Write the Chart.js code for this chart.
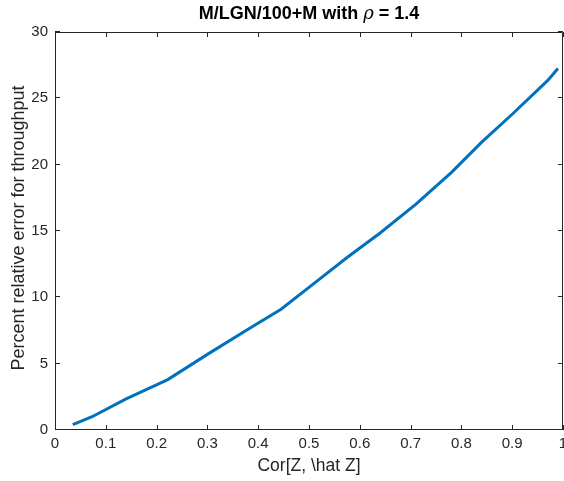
<!DOCTYPE html>
<html>
<head>
<meta charset="utf-8">
<script src="https://cdn.jsdelivr.net/npm/chart.js@4"></script>
<style>
  body { margin: 0; background: #fff; }
  #wrap { width: 564px; height: 481px; }
</style>
</head>
<body>
<div id="wrap"><canvas id="plot"></canvas></div>
<script>
// values
const corr = [0.035, 0.073, 0.14, 0.222, 0.3, 0.38, 0.445, 0.51, 0.575, 0.64, 0.71, 0.78, 0.84, 0.9, 0.97, 0.99];
const relErr = [0.4, 1.0, 2.35, 3.8, 5.7, 7.6, 9.1, 11.05, 13.0, 14.85, 17.0, 19.4, 21.7, 23.8, 26.35, 27.25];
const xTicks = [0, 0.1, 0.2, 0.3, 0.4, 0.5, 0.6, 0.7, 0.8, 0.9, 1];
const yTicks = [0, 5, 10, 15, 20, 25, 30];

const titleParts = [
  { text: 'M/LGN/100+M with ', italic: false },
  { text: 'ρ', italic: true },
  { text: ' = 1.4', italic: false }
];
const xLabel = 'Cor[Z, \\hat Z]';
const yLabel = 'Percent relative error for throughput';

const axisColor = '#262626';
const fontName = '"Liberation Sans", Arial, Helvetica, sans-serif';

function partFont(p) {
  return p.italic ? 'italic 18px "DejaVu Serif", serif' : 'bold 18px ' + fontName;
}

// matlab-ish box with inward ticks, plus title and axis labels
const matlabAxes = {
  id: 'matlabAxes',
  afterDraw(chart) {
    const ctx = chart.ctx;
    const a = chart.chartArea;
    const xs = chart.scales.x, ys = chart.scales.y;
    ctx.save();
    ctx.strokeStyle = axisColor;
    ctx.lineWidth = 1;
    ctx.beginPath();
    ctx.rect(a.left + 0.5, a.top + 0.5, a.right - a.left - 1, a.bottom - a.top - 1);
    const tl = 5;
    xTicks.forEach(v => {
      const px = Math.round(xs.getPixelForValue(v)) + 0.5;
      ctx.moveTo(px, a.bottom); ctx.lineTo(px, a.bottom - tl);
      ctx.moveTo(px, a.top); ctx.lineTo(px, a.top + tl);
    });
    yTicks.forEach(v => {
      const py = Math.round(ys.getPixelForValue(v)) - 0.5;
      ctx.moveTo(a.left, py); ctx.lineTo(a.left + tl, py);
      ctx.moveTo(a.right, py); ctx.lineTo(a.right - tl, py);
    });
    ctx.stroke();

    // title
    ctx.fillStyle = '#000';
    ctx.textBaseline = 'middle';
    ctx.textAlign = 'left';
    let total = 0;
    titleParts.forEach(p => {
      ctx.font = partFont(p);
      p.w = ctx.measureText(p.text).width;
      total += p.w;
    });
    let tx = (a.left + a.right) / 2 - total / 2;
    titleParts.forEach(p => {
      ctx.font = partFont(p);
      ctx.fillText(p.text, tx, 14);
      tx += p.w;
    });

    // axis labels
    ctx.fillStyle = axisColor;
    ctx.font = '17.5px ' + fontName;
    ctx.textAlign = 'center';
    ctx.fillText(xLabel, (a.left + a.right) / 2, 466);
    ctx.font = '18px ' + fontName;
    ctx.translate(19, 228);
    ctx.rotate(-Math.PI / 2);
    ctx.fillText(yLabel, 0, 0);
    ctx.restore();
  }
};

new Chart(document.getElementById('plot'), {
  type: 'line',
  data: {
    datasets: [{
      data: corr.map((c, i) => ({ x: c, y: relErr[i] })),
      borderColor: '#0072BD',
      borderWidth: 3,
      pointRadius: 0,
      tension: 0,
      fill: false
    }]
  },
  options: {
    responsive: true,
    maintainAspectRatio: false,
    animation: false,
    devicePixelRatio: 1,
    layout: { padding: { top: 32, right: 1, left: 0, bottom: 0 } },
    plugins: { legend: { display: false }, title: { display: false }, tooltip: { enabled: false } },
    scales: {
      x: {
        type: 'linear',
        min: 0, max: 1,
        afterBuildTicks: s => { s.ticks = xTicks.map(v => ({ value: v })); },
        afterFit: s => { s.height = 51; s.paddingRight = 0; s.paddingLeft = 0; },
        grid: { display: false, drawTicks: false },
        border: { display: false },
        ticks: {
          color: axisColor,
          font: { family: fontName, size: 15 },
          padding: 5,
          maxRotation: 0,
          callback: v => String(v)
        }
      },
      y: {
        type: 'linear',
        min: 0, max: 30,
        afterBuildTicks: s => { s.ticks = yTicks.map(v => ({ value: v })); },
        afterFit: s => { s.width = 55; s.paddingTop = 0; s.paddingBottom = 0; },
        grid: { display: false, drawTicks: false },
        border: { display: false },
        ticks: {
          color: axisColor,
          font: { family: fontName, size: 15 },
          padding: 7
        }
      }
    }
  },
  plugins: [matlabAxes]
});
</script>
</body>
</html>
